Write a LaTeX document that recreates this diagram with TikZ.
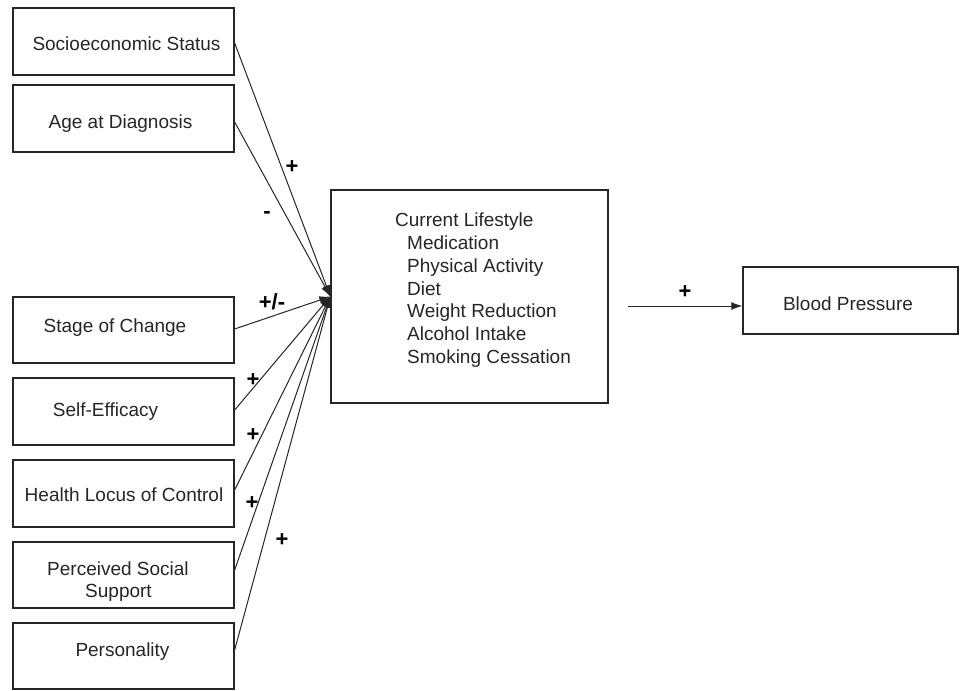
\documentclass[tikz,border=0pt]{standalone}
\usepackage{fontspec}
\setmainfont{Liberation Sans}
\usetikzlibrary{arrows.meta}
\tikzset{
  box/.style={draw=black!85, line width=1.3pt, inner sep=0pt, anchor=center},
  lbl/.style={inner sep=0pt, font=\fontsize{19}{23}\selectfont, text height=14pt, text depth=0pt, anchor=center, text=black!85},
  sign/.style={inner sep=0pt, font=\fontsize{22}{24}\selectfont\bfseries, anchor=center},
  conn/.style={draw=black!85, line width=1pt, -{Latex[length=11pt,width=8pt]}}
}
\begin{document}
\begin{tikzpicture}[x=1pt,y=-1pt]
\useasboundingbox[fill=white] (0,0) rectangle (960,690);
% left boxes (x 13..234)
\node[box, minimum width=221pt, minimum height=67pt] (ses) at (123.5,41.5) {};
\node[box, minimum width=221pt, minimum height=67pt] (age) at (123.5,118.5) {};
\node[box, minimum width=221pt, minimum height=66pt] (soc) at (123.5,330) {};
\node[box, minimum width=221pt, minimum height=67pt] (sef) at (123.5,411.5) {};
\node[box, minimum width=221pt, minimum height=67pt] (hlc) at (123.5,493.5) {};
\node[box, minimum width=221pt, minimum height=66pt] (pss) at (123.5,575) {};
\node[box, minimum width=221pt, minimum height=66pt] (per) at (123.5,656) {};
% box texts
\node[lbl] (tses) at (126.5,43.5) {Socioeconomic Status};
\node[lbl] (tage) at (120.5,121.5) {Age at Diagnosis};
\node[lbl] (tsoc) at (115,325.5) {Stage of Change};
\node[lbl] (tsef) at (105.5,409) {Self-Efficacy};
\node[lbl] (thlc) at (124,494.5) {Health Locus of Control};
\node[lbl] (tpss1) at (118,568) {Perceived Social};
\node[lbl] (tpss2) at (118.5,590) {Support};
\node[lbl] (tper) at (122.5,649.5) {Personality};
% central box
\node[box, minimum width=277pt, minimum height=213pt] (life) at (469.5,296.5) {};
\node[inner sep=0pt, anchor=north west, align=left, text=black!85,
      font=\fontsize{19}{22.7}\selectfont] (tlife) at (395,213)
  {Current Lifestyle\\
   \hspace*{12pt}Medication\\
   \hspace*{12pt}Physical Activity\\
   \hspace*{12pt}Diet\\
   \hspace*{12pt}Weight Reduction\\
   \hspace*{12pt}Alcohol Intake\\
   \hspace*{12pt}Smoking Cessation};
% blood pressure
\node[box, minimum width=215pt, minimum height=67pt] (bp) at (850.5,300.5) {};
\node[lbl] (tbp) at (848,303) {Blood Pressure};
% connectors
\coordinate (hub) at (life.west);
\draw[conn] ([yshift=-1.5pt]ses.east) -- (hub);
\draw[conn] ([yshift=-3.5pt]age.east) -- (hub);
\draw[conn] ([yshift=1pt]soc.east) -- (hub);
\draw[conn] ([yshift=1.5pt]sef.east) -- (hub);
\draw[conn] ([yshift=3.5pt]hlc.east) -- (hub);
\draw[conn] ([yshift=5pt]pss.east) -- (hub);
\draw[conn] ([yshift=6pt]per.east) -- (hub);
\coordinate (bpstart) at (628,306);
\draw[conn] (bpstart) -- (bp.west |- bpstart);
% signs
\node[sign] (s1) at (292,167) {+};
\node[sign] (s2) at (267,215) {-};
\node[sign] (s3) at (272,302) {+/-};
\node[sign] (s4) at (253,380) {+};
\node[sign] (s5) at (253,435) {+};
\node[sign] (s6) at (252,503) {+};
\node[sign] (s7) at (282,540) {+};
\node[sign] (s8) at (685,292) {+};
\end{tikzpicture}
\end{document}
